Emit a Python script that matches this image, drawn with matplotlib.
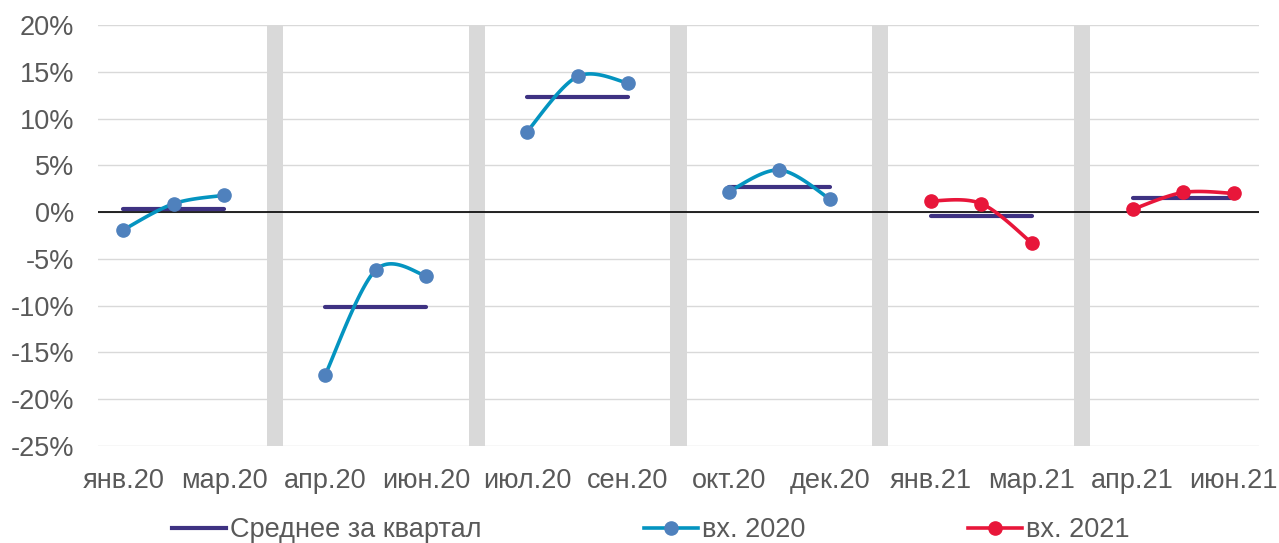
import numpy as np
import matplotlib
matplotlib.use("Agg")
import matplotlib.pyplot as plt
from matplotlib.lines import Line2D

plt.rcParams["font.family"] = ["Liberation Sans", "DejaVu Sans"]

# помесячные значения по кварталам (%)
q_2020 = [
    [-1.9, 0.9, 1.8],
    [-17.4, -6.2, -6.8],
    [8.6, 14.5, 13.8],
    [2.2, 4.5, 1.4],
]
q_2021 = [
    [1.2, 0.9, -3.3],
    [0.3, 2.1, 2.0],
]
avg_quarter = [0.3, -10.1, 12.3, 2.7, -0.4, 1.5]

labels = ["янв.20", "мар.20", "апр.20", "июн.20", "июл.20", "сен.20",
          "окт.20", "дек.20", "янв.21", "мар.21", "апр.21", "июн.21"]
yticks = [-25, -20, -15, -10, -5, 0, 5, 10, 15, 20]

C_2020 = "#0494C0"
C_MARK = "#4F81BD"
C_2021 = "#E8163A"
C_AVG = "#3E3282"
GREY = "#595959"


def smooth(x, y, n=30):
    """Сглаживание как в Excel: кривые Безье по соседним точкам."""
    x = np.asarray(x, float)
    y = np.asarray(y, float)
    px = np.concatenate([[x[0]], x, [x[-1]]])
    py = np.concatenate([[y[0]], y, [y[-1]]])
    xs, ys = [], []
    t = np.linspace(0, 1, n)
    for i in range(len(x) - 1):
        p0 = np.array([px[i + 1], py[i + 1]])
        p3 = np.array([px[i + 2], py[i + 2]])
        c1 = p0 + (np.array([px[i + 2], py[i + 2]]) - np.array([px[i], py[i]])) / 6
        c2 = p3 - (np.array([px[i + 3], py[i + 3]]) - np.array([px[i + 1], py[i + 1]])) / 6
        b = ((1 - t) ** 3)[:, None] * p0 + (3 * (1 - t) ** 2 * t)[:, None] * c1 \
            + (3 * (1 - t) * t ** 2)[:, None] * c2 + (t ** 3)[:, None] * p3
        xs.extend(b[:, 0])
        ys.extend(b[:, 1])
    return xs, ys


fig = plt.figure(figsize=(12.79, 5.43), dpi=100)
ax = fig.add_axes([98 / 1279, 1 - 446 / 543, (1259 - 98) / 1279, (446 - 25) / 543])

ax.set_xlim(-0.5, 22.5)
ax.set_ylim(-25, 20)
ax.set_yticks(yticks)
ax.set_yticklabels([f"{v}%" for v in yticks])
ax.yaxis.grid(True, color="#D9D9D9", lw=1)
ax.set_axisbelow(True)
ax.axhline(0, color="black", lw=1.2, zorder=2)

# серые разделители кварталов
for g in range(3, 23, 4):
    ax.axvspan(g - 0.16, g + 0.16, color="#D9D9D9", lw=0, zorder=1)

all_q = [(q, C_2020, C_MARK) for q in q_2020] + [(q, C_2021, C_2021) for q in q_2021]
for i, (vals, lc, mc) in enumerate(all_q):
    xs = [i * 4 + k for k in range(3)]
    ax.plot([xs[0], xs[-1]], [avg_quarter[i]] * 2, color=C_AVG, lw=3,
            solid_capstyle="round", zorder=3)
    sx, sy = smooth(xs, vals)
    ax.plot(sx, sy, color=lc, lw=2.6, zorder=4)
    ax.plot(xs, vals, "o", color=mc, ms=9.5, zorder=5)

ax.set_xticks(range(0, 23, 2))
ax.set_xticklabels(labels)
ax.tick_params(length=0, labelsize=19.5, labelcolor=GREY)
ax.tick_params(axis="x", pad=16)
ax.tick_params(axis="y", pad=17)
for s in ax.spines.values():
    s.set_visible(False)

handles = [
    Line2D([], [], color=C_AVG, lw=3),
    Line2D([], [], color=C_2020, lw=2.6, marker="o", mfc=C_MARK, mec=C_MARK, ms=9.5),
    Line2D([], [], color=C_2021, lw=2.6, marker="o", mfc=C_2021, mec=C_2021, ms=9.5),
]
leg = fig.legend(handles, ["Среднее за квартал", "вх. 2020", "вх. 2021"],
                 loc="center", bbox_to_anchor=(651 / 1279, 1 - 530 / 543), ncol=3,
                 frameon=False, fontsize=19.5, handlelength=2.0, handletextpad=0.15,
                 columnspacing=6.0, borderpad=0)
for t in leg.get_texts():
    t.set_color(GREY)

fig.savefig("out.png", dpi=100)
